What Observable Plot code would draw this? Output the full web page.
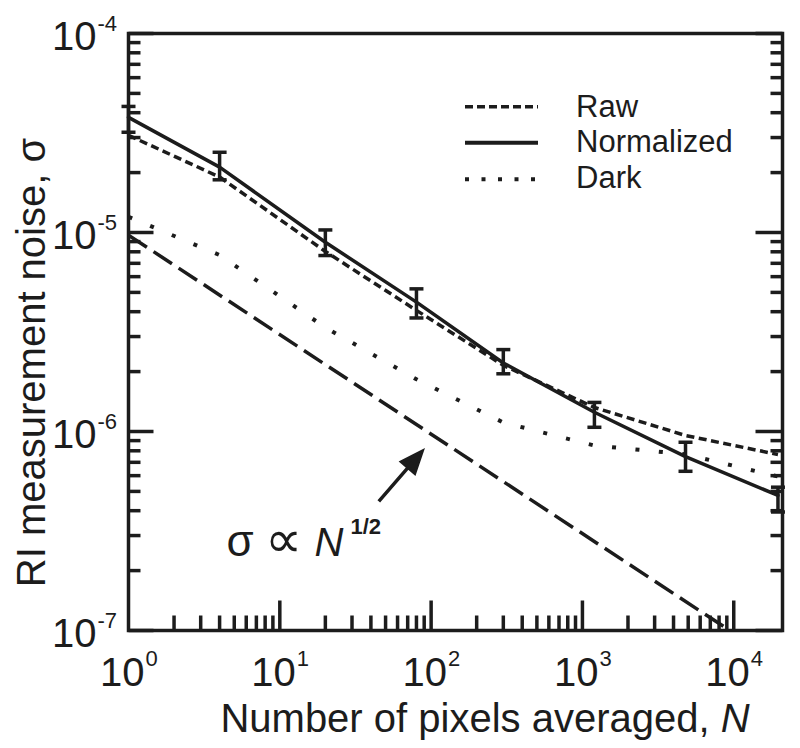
<!DOCTYPE html>
<html>
<head>
<meta charset="utf-8">
<script src="https://cdn.jsdelivr.net/npm/d3@7"></script>
<script src="https://cdn.jsdelivr.net/npm/@observablehq/plot@0.6"></script>
<style>
  html, body { margin: 0; padding: 0; background: #fff; }
  #chart { width: 800px; height: 748px; }
</style>
</head>
<body>
<div id="chart"></div>
<script>
// ---- data ----
const N          = [1, 4, 20, 80, 300, 1200, 4800, 19600];
const normalized = [3.79e-5, 2.13e-5, 8.93e-6, 4.47e-6, 2.21e-6, 1.25e-6, 7.48e-7, 4.77e-7];
const normHi     = [4.30e-5, 2.53e-5, 1.03e-5, 5.21e-6, 2.58e-6, 1.40e-6, 8.83e-7, 5.25e-7];
const normLo     = [3.19e-5, 1.84e-5, 7.66e-6, 3.72e-6, 1.95e-6, 1.05e-6, 6.31e-7, 3.94e-7];
const raw        = [3.08e-5, 1.90e-5, 8.03e-6, 4.06e-6, 2.15e-6, 1.32e-6, 9.55e-7, 7.66e-7];
const dark       = [1.20e-5, 7.70e-6, 3.33e-6, 1.83e-6, 1.11e-6, 8.50e-7, 7.69e-7, 5.94e-7];

// sigma ∝ N^-1/2 reference line
const refN     = [1, 1e4];
const refSigma = [9.7e-6, 9.7e-8];

// axis ticks / labels
const xTickValues    = [1, 10, 100, 1000, 10000];
const xTickExponents = ["0", "1", "2", "3", "4"];
const yTickValues    = [1e-4, 1e-5, 1e-6, 1e-7];
const yTickExponents = ["-4", "-5", "-6", "-7"];
const xMajorTicks = [10, 100, 1000, 10000];
const yMajorTicks = [1e-4, 1e-5, 1e-6, 1e-7];
const minorMultipliers = [2, 3, 4, 5, 6, 7, 8, 9];
const xDecades = [1, 10, 100, 1000];
const yDecades = [1e-7, 1e-6, 1e-5];

// texts
const xTitle = "Number of pixels averaged, ";
const xTitleItalic = "N";
const yTitle = "RI measurement noise, σ";
const legendLabels = ["Raw", "Normalized", "Dark"];

// annotation "σ ∝ N^1/2" and arrow (data coordinates)
const noteN = [4.44];
const noteSigma = [2.38e-7];
const noteParts = ["σ", "∝", "N", "1/2"];
const arrowTailN = [45.1];
const arrowTailSigma = [4.45e-7];

// ---- build ----
const ink = "#1c1c1c";
const font = "'Liberation Sans', Arial, Helvetica, sans-serif";

const rows = N.map((n, i) => ({N: n, normalized: normalized[i], hi: normHi[i], lo: normLo[i], raw: raw[i], dark: dark[i]}));
const refRows = refN.map((n, i) => ({N: n, s: refSigma[i]}));
const xMinor = xDecades.flatMap(d => minorMultipliers.map(m => m * d));
const yMinor = yDecades.flatMap(d => minorMultipliers.map(m => m * d));

const lineShape = {draw(c, l) { c.moveTo(0, 0); c.lineTo(0, -l); }};
const arrowShape = {draw(c, l) {
  const h = 21, w = 8.5;
  c.moveTo(0, 0); c.lineTo(0, -l + h * 0.7);
  c.moveTo(-w, -l + h); c.lineTo(0, -l); c.lineTo(w, -l + h); c.closePath();
}};

const tickOpts = {shape: lineShape, anchor: "start", stroke: ink, strokeWidth: 3.5, strokeLinecap: "butt"};

const plot = Plot.plot({
  width: 800,
  height: 748,
  marginLeft: 128,
  marginRight: 18,
  marginTop: 33,
  marginBottom: 118,
  x: {type: "log", domain: [1, 2.1e4], axis: null},
  y: {type: "log", domain: [1e-7, 1e-4], axis: null},
  style: {fontFamily: font, color: ink, background: "white", overflow: "visible"},
  marks: [
    // reference slope line
    Plot.line(refRows, {x: "N", y: "s", stroke: ink, strokeWidth: 3.5, strokeDasharray: "22,8", strokeLinecap: "butt", clip: true}),
    // dark (dotted)
    Plot.line(rows, {x: "N", y: "dark", stroke: ink, strokeWidth: 4, strokeDasharray: "4,19.5", strokeLinecap: "butt"}),
    // raw (short dashes)
    Plot.line(rows, {x: "N", y: "raw", stroke: ink, strokeWidth: 3.5, strokeDasharray: "8,4.5", strokeLinecap: "butt"}),
    // normalized (solid)
    Plot.line(rows, {x: "N", y: "normalized", stroke: ink, strokeWidth: 3.5}),
    // error bars
    Plot.ruleX(rows, {x: "N", y1: "lo", y2: "hi", stroke: ink, strokeWidth: 3.5}),
    Plot.vector(rows, {x: "N", y: "hi", length: 14, rotate: 90, anchor: "middle", shape: lineShape, stroke: ink, strokeWidth: 3.5, strokeLinecap: "butt"}),
    Plot.vector(rows, {x: "N", y: "lo", length: 14, rotate: 90, anchor: "middle", shape: lineShape, stroke: ink, strokeWidth: 3.5, strokeLinecap: "butt"}),
    // arrow
    Plot.vector(arrowTailN, {x: d => d, y: (d, i) => arrowTailSigma[i], length: 66, rotate: 40.8, anchor: "start", shape: arrowShape, stroke: ink, fill: ink, strokeWidth: 3.5, strokeLinejoin: "miter", strokeLinecap: "butt"}),
    // annotation
    Plot.text(noteN, {x: d => d, y: (d, i) => noteSigma[i], text: () => noteParts[0], textAnchor: "start", lineAnchor: "bottom", fontSize: 44, fill: ink}),
    Plot.text(noteN, {x: d => d, y: (d, i) => noteSigma[i], text: () => noteParts[1], textAnchor: "start", lineAnchor: "bottom", dx: 39, dy: 1, fontSize: 52, fill: ink}),
    Plot.text(noteN, {x: d => d, y: (d, i) => noteSigma[i], text: () => noteParts[2], textAnchor: "start", lineAnchor: "bottom", dx: 88, fontSize: 40, fontStyle: "italic", fill: ink}),
    Plot.text(noteN, {x: d => d, y: (d, i) => noteSigma[i], text: () => noteParts[3], textAnchor: "start", lineAnchor: "bottom", dx: 124, dy: -22, fontSize: 22, fontWeight: "bold", fill: ink}),
    // inward ticks
    Plot.vector(xMajorTicks, {x: d => d, frameAnchor: "bottom", length: 30, rotate: 0, ...tickOpts}),
    Plot.vector(xMinor, {x: d => d, frameAnchor: "bottom", length: 15, rotate: 0, ...tickOpts}),
    Plot.vector(yMajorTicks, {y: d => d, frameAnchor: "left", length: 25, rotate: 90, ...tickOpts}),
    Plot.vector(yMinor, {y: d => d, frameAnchor: "left", length: 12, rotate: 90, ...tickOpts}),
    Plot.vector(yMajorTicks, {y: d => d, frameAnchor: "right", length: 27, rotate: -90, ...tickOpts}),
    Plot.vector(yMinor, {y: d => d, frameAnchor: "right", length: 12, rotate: -90, ...tickOpts}),
    // tick labels 10^k
    Plot.text(xTickValues, {x: d => d, frameAnchor: "bottom", text: () => "10", textAnchor: "end", lineAnchor: "bottom", dx: 16, dy: 55, fontSize: 40, fill: ink}),
    Plot.text(xTickValues, {x: d => d, frameAnchor: "bottom", text: (d, i) => xTickExponents[i], textAnchor: "start", lineAnchor: "bottom", dx: 17, dy: 35, fontSize: 22, fill: ink}),
    Plot.text(yTickValues, {y: d => d, frameAnchor: "left", text: () => "10", textAnchor: "end", lineAnchor: "bottom", dx: -32, dy: 16, fontSize: 40, fill: ink}),
    Plot.text(yTickValues, {y: d => d, frameAnchor: "left", text: (d, i) => yTickExponents[i], textAnchor: "start", lineAnchor: "bottom", dx: -31, dy: -3, fontSize: 22, fill: ink}),
    // frame
    Plot.frame({stroke: ink, strokeWidth: 3.5})
  ]
});

const svg = d3.select(plot);

// axis titles
const xt = svg.append("text")
  .attr("x", 485).attr("y", 731.7)
  .attr("text-anchor", "middle")
  .attr("font-family", font).attr("font-size", 40).attr("fill", ink);
xt.append("tspan").text(xTitle);
xt.append("tspan").attr("font-style", "italic").text(xTitleItalic);

svg.append("text")
  .attr("transform", "translate(45,362.5) rotate(-90)")
  .attr("text-anchor", "middle")
  .attr("font-family", font).attr("font-size", 40).attr("fill", ink)
  .text(yTitle);

// legend
const legendDash = ["8,4", null, "4,12.5"];
const legendWidth = [3.5, 4, 4];
const legendLineY = [106.7, 142.7, 179.3];
const legendTextY = [117, 152, 188.3];
const lg = svg.append("g");
legendLabels.forEach((label, i) => {
  const l = lg.append("line")
    .attr("x1", 465).attr("x2", 538)
    .attr("y1", legendLineY[i]).attr("y2", legendLineY[i])
    .attr("stroke", ink).attr("stroke-width", legendWidth[i]);
  if (legendDash[i]) l.attr("stroke-dasharray", legendDash[i]);
  lg.append("text")
    .attr("x", 576).attr("y", legendTextY[i])
    .attr("text-anchor", "start")
    .attr("font-family", font).attr("font-size", 31).attr("fill", ink)
    .text(label);
});

document.getElementById("chart").append(plot);
</script>
</body>
</html>
